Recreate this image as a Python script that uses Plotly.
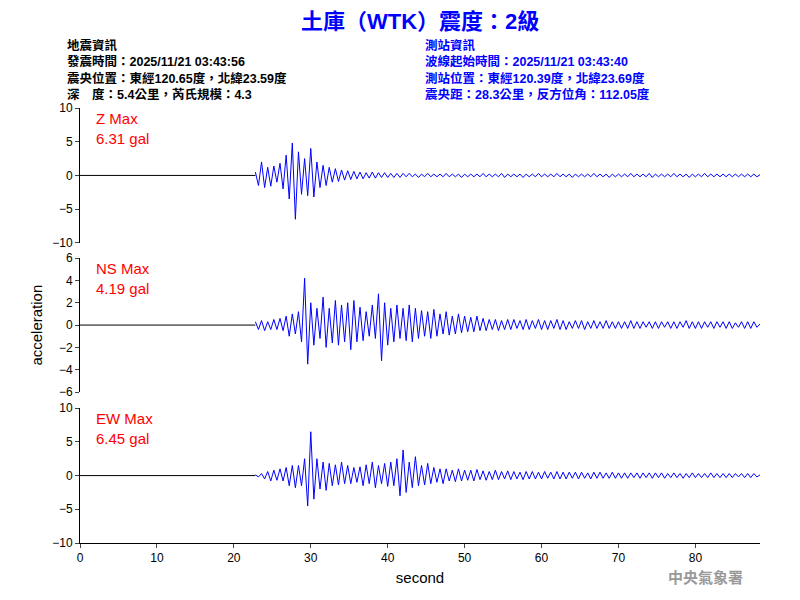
import numpy as np
import plotly.graph_objects as go

# waveform samples read by eye, every 0.4 s from onset (22.8 s)
t0 = 22.8
dt = 0.4
z_acc = [0.5,-1.5,2.0,-1.8,1.2,-1.6,1.4,-1.0,1.8,-2.0,
         3.0,-3.5,4.8,-6.5,3.5,-2.8,2.5,-3.0,4.0,-3.2,
         2.0,-1.8,1.5,-1.5,1.2,-1.0,1.0,-0.9,0.8,-0.7,
         0.7,-0.6,0.6,-0.5,0.5,-0.5,0.4,-0.4,0.5,-0.4,
         0.4,-0.3,0.4,-0.3,0.3,-0.3,0.3,-0.3,0.3,-0.2,
         0.3,-0.2,0.2,-0.3,0.2,-0.2,0.3,-0.2,0.2,-0.2,
         0.2,-0.2,0.3,-0.2,0.2,-0.2,0.2,-0.3,0.2,-0.2,
         0.2,-0.2,0.2,-0.2,0.3,-0.2,0.2,-0.2,0.2,-0.2,
         0.3,-0.3,0.2,-0.2,0.2,-0.2,0.2,-0.3,0.2,-0.2,
         0.2,-0.2,0.3,-0.2,0.2,-0.2,0.2,-0.2,0.3,-0.2,
         0.2,-0.2,0.2,-0.3,0.2,-0.2,0.2,-0.2,0.2,-0.2,
         0.3,-0.2,0.2,-0.2,0.2,-0.3,0.2,-0.2,0.2,-0.2,
         0.2,-0.2,0.3,-0.2,0.2,-0.2,0.2,-0.2,0.3,-0.3,
         0.2,-0.2,0.2,-0.2,0.2,-0.2,0.3,-0.2,0.2,-0.2,
         0.2,-0.3,0.2,-0.2,0.2,-0.2,0.3,-0.2,0.2,-0.2,
         0.2,-0.2,0.2,-0.2,0.2,-0.2,0.2,-0.2,0.2,-0.2,
         0.2,-0.2,0.2,-0.2,0.1]
ns_acc = [0.3,-0.4,0.4,-0.5,0.3,-0.4,0.5,-0.4,0.6,-0.5,
          0.8,-1.0,1.0,-0.8,1.2,-1.5,4.2,-3.5,2.0,-1.8,
          1.5,-1.2,2.5,-2.0,1.5,-1.6,2.2,-1.8,1.8,-1.5,
          2.0,-2.2,2.2,-1.5,1.6,-1.4,1.2,-1.0,1.8,-1.2,
          2.8,-3.2,2.0,-1.8,1.5,-1.5,1.8,-1.2,1.5,-1.4,
          1.8,-1.5,1.5,-1.2,1.3,-1.0,1.2,-1.2,1.4,-1.0,
          1.0,-0.8,1.2,-0.9,0.8,-0.8,1.0,-0.7,0.8,-0.6,
          0.7,-0.6,0.8,-0.5,0.6,-0.5,0.5,-0.4,0.5,-0.5,
          0.4,-0.4,0.5,-0.4,0.5,-0.3,0.4,-0.4,0.5,-0.4,
          0.4,-0.3,0.5,-0.4,0.4,-0.4,0.4,-0.3,0.5,-0.4,
          0.4,-0.4,0.3,-0.3,0.4,-0.3,0.4,-0.4,0.3,-0.3,
          0.4,-0.3,0.3,-0.3,0.4,-0.3,0.3,-0.3,0.3,-0.3,
          0.3,-0.3,0.4,-0.3,0.3,-0.3,0.3,-0.2,0.3,-0.3,
          0.3,-0.3,0.3,-0.2,0.3,-0.3,0.3,-0.3,0.3,-0.2,
          0.4,-0.3,0.3,-0.3,0.3,-0.3,0.3,-0.2,0.3,-0.3,
          0.3,-0.2,0.3,-0.3,0.3,-0.3,0.2,-0.2,0.3,-0.3,
          0.3,-0.3,0.3,-0.2,0.1]
ew_acc = [0.1,-0.2,0.3,-0.5,0.6,-0.8,0.8,-0.7,1.0,-0.8,
          1.2,-1.5,1.5,-1.8,1.5,-1.5,2.5,-4.5,6.5,-3.5,
          2.5,-2.0,2.0,-2.2,1.8,-1.5,1.6,-1.4,2.0,-1.2,
          1.5,-1.2,1.2,-1.0,1.3,-1.5,1.6,-1.2,2.0,-1.8,
          1.5,-1.2,1.8,-1.6,2.0,-1.5,2.5,-3.0,3.8,-2.5,
          2.0,-1.8,2.8,-1.5,1.5,-1.4,1.8,-1.2,1.2,-1.0,
          1.0,-1.2,1.0,-0.8,0.8,-0.9,1.0,-0.8,0.8,-0.7,
          0.8,-0.8,0.9,-0.6,0.7,-0.7,0.6,-0.6,0.8,-0.6,
          0.6,-0.5,0.7,-0.6,0.6,-0.5,0.5,-0.6,0.6,-0.5,
          0.6,-0.5,0.5,-0.5,0.6,-0.4,0.5,-0.5,0.6,-0.5,
          0.5,-0.5,0.5,-0.4,0.5,-0.5,0.5,-0.4,0.4,-0.5,
          0.5,-0.4,0.5,-0.4,0.4,-0.4,0.5,-0.4,0.4,-0.4,
          0.4,-0.4,0.4,-0.3,0.4,-0.4,0.4,-0.3,0.4,-0.4,
          0.4,-0.3,0.4,-0.4,0.3,-0.3,0.4,-0.3,0.3,-0.4,
          0.3,-0.3,0.4,-0.3,0.3,-0.3,0.3,-0.3,0.4,-0.3,
          0.3,-0.3,0.3,-0.3,0.3,-0.3,0.3,-0.2,0.3,-0.3,
          0.3,-0.3,0.3,-0.2,0.1]
comp_names = ["Z", "NS", "EW"]
comp_max = ["6.31", "4.19", "6.45"]
y_ranges = [[-10, 10], [-6, 6], [-10, 10]]
y_ticks = [[-10, -5, 0, 5, 10], [-6, -4, -2, 0, 2, 4, 6], [-10, -5, 0, 5, 10]]
x_end = 88.4

domains = [[0.69, 1.0], [0.347, 0.655], [0.0, 0.31]]
cjk = "Noto Sans CJK TC"
info_font = "Arial, Noto Sans CJK TC"
fig = go.Figure()
for i, vals in enumerate([z_acc, ns_acc, ew_acc]):
    t = t0 + dt * np.arange(len(vals))
    ya = "y" if i == 0 else "y%d" % (i + 1)
    # flat pre-event baseline
    fig.add_trace(go.Scatter(x=[0, t0], y=[0, 0], mode="lines", line=dict(color="black", width=1),
                             xaxis="x", yaxis=ya, showlegend=False))
    fig.add_trace(go.Scatter(x=t, y=vals, mode="lines", line=dict(color="blue", width=1),
                             xaxis="x", yaxis=ya, showlegend=False))
    key = "yaxis" if i == 0 else "yaxis%d" % (i + 1)
    fig.layout[key] = dict(domain=domains[i], range=y_ranges[i], tickvals=y_ticks[i],
                           showline=True, linecolor="black", ticks="outside", ticklen=4,
                           showgrid=False, zeroline=False, anchor="x", automargin=False,
                           tickfont=dict(family="Arial", size=12, color="black"))
    fig.add_annotation(x=0.02, y=domains[i][1], xref="paper", yref="paper",
                       text=comp_names[i] + " Max<br>" + comp_max[i] + " gal",
                       showarrow=False, xanchor="left", yanchor="top", align="left",
                       font=dict(family="Arial", size=15, color="red"))

# page body adds an 8px offset, so margins are shifted to compensate
fig.update_layout(
    width=800, height=600, plot_bgcolor="white", paper_bgcolor="white",
    margin=dict(l=72, r=48, t=100, b=65),
    xaxis=dict(range=[0, x_end], tickvals=[0, 10, 20, 30, 40, 50, 60, 70, 80],
               anchor="y3", automargin=False,
               showline=True, linecolor="black", ticks="outside", ticklen=4,
               showgrid=False, zeroline=False,
               title=dict(text="second", font=dict(family="Arial", size=15, color="black"), standoff=8),
               tickfont=dict(family="Arial", size=12, color="black")),
)
fig.add_annotation(x=-0.08, y=0.5, xref="paper", yref="paper", text="acceleration", textangle=-90,
                   showarrow=False, font=dict(family="Arial", size=15, color="black"))

fig.add_annotation(x=0.5, y=1.2, xref="paper", yref="paper", yanchor="middle",
                   text="<b>土庫（WTK）震度：2級</b>",
                   showarrow=False, font=dict(family=info_font, size=22, color="blue"))
left_info = "地震資訊<br>發震時間：2025/11/21 03:43:56<br>震央位置：東經120.65度，北緯23.59度<br>深　度：5.4公里，芮氏規模：4.3"
right_info = "測站資訊<br>波線起始時間：2025/11/21 03:43:40<br>測站位置：東經120.39度，北緯23.69度<br>震央距：28.3公里，反方位角：112.05度"
fig.add_annotation(x=-0.022, y=1.165, xref="paper", yref="paper", text="<b>" + left_info + "</b>",
                   showarrow=False, xanchor="left", yanchor="top", align="left",
                   font=dict(family=info_font, size=12.5, color="black"))
fig.add_annotation(x=0.504, y=1.165, xref="paper", yref="paper", text="<b>" + right_info + "</b>",
                   showarrow=False, xanchor="left", yanchor="top", align="left",
                   font=dict(family=info_font, size=12.5, color="blue"))
fig.add_annotation(x=0.978, y=-0.105, xref="paper", yref="paper", text="<b>中央氣象署</b>",
                   showarrow=False, xanchor="right", font=dict(family=cjk, size=15, color="#999999"))

fig.write_html("out.html")
